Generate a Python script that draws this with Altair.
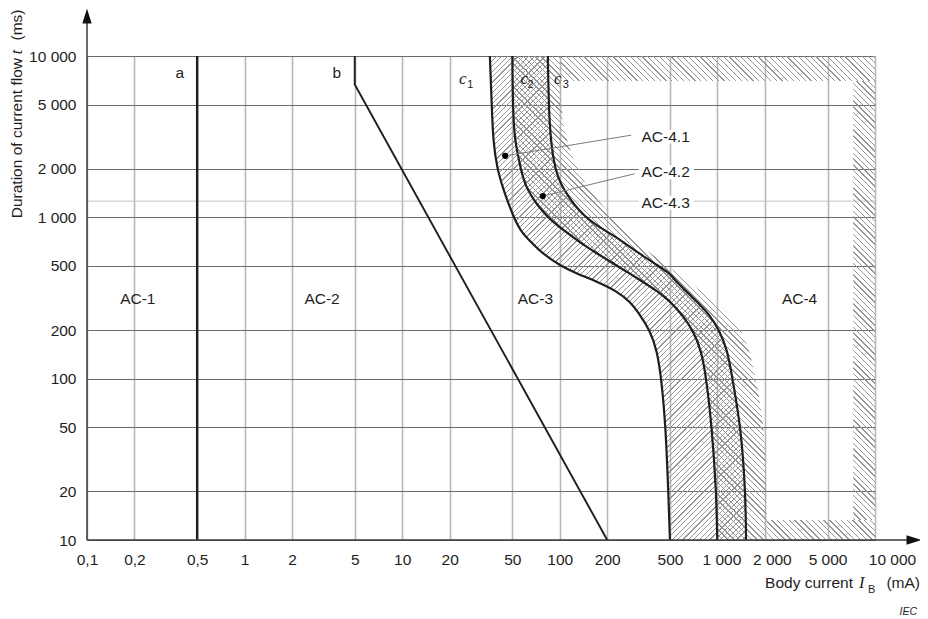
import math
import altair as alt
import pandas as pd

FONT = "Liberation Sans"
SERIF = "Liberation Serif"
INK = "#1e1e1e"
HATCH = "#969696"
CURVE_INTERP = "basis"

# ---------------- axis ticks ----------------
X_TICKS = [0.1, 0.2, 0.5, 1, 2, 5, 10, 20, 50, 100, 200, 500, 1000, 2000, 5000, 10000]
X_TICK_LABELS = ["0,1", "0,2", "0,5", "1", "2", "5", "10", "20", "50", "100", "200", "500",
                 "1 000", "2 000", "5 000", "10 000"]
Y_TICKS = [10, 20, 50, 100, 200, 500, 1000, 2000, 5000, 10000]
Y_TICK_LABELS = ["10", "20", "50", "100", "200", "500", "1 000", "2 000", "5 000", "10 000"]
EXTRA_LINE_MS = [1260]

# ---------------- curves (duration ms -> body current mA) ----------------
T_MS = [10, 20, 50, 100, 150, 200, 250, 300, 350, 400, 450, 500, 600, 700, 800, 1000,
        1500, 2000, 3000, 5000, 10000]
C1_MA = [500, 488, 470, 441, 414, 372, 321, 280, 228, 172, 127, 101, 77, 66, 57.4, 50.8,
         43.7, 40, 37.7, 37, 36]
C2_MA = [998, 984, 922, 851, 790, 700, 593, 505, 414, 334, 276, 231, 171, 134, 112, 82,
         60.7, 56.6, 51.6, 50.3, 50]
C3_MA = [1520, 1507, 1410, 1245, 1160, 1025, 890, 740, 630, 548, 498, 422, 316, 255, 206, 141,
         104, 93, 87.5, 85, 84]
C3_BAND_MA = [2050, 2050, 2000, 1753, 1600, 1420, 1200, 975, 790, 649, 561, 481, 377, 303, 267, 218,
              151, 130, 109, 101, 101]

A_MA = [0.5, 0.5]
A_MS = [10, 10000]
B_MA = [5, 5, 200]
B_MS = [10000, 6650, 10]

# hatched border strips of zone AC-4
STRIP_X1 = [101, 7270, 2050]
STRIP_X2 = [10000, 10000, 10000]
STRIP_T1 = [7000, 13.3, 10]
STRIP_T2 = [10000, 7000, 13.3]

# zone labels
ZONE_LABELS = ["AC-1", "AC-2", "AC-3", "AC-4"]
ZONE_MA = [0.21, 3.1, 70, 3320]
ZONE_MS = [311, 311, 311, 311]

# line letters
LETTER_TEXT = ["a", "b"]
LETTER_MA = [0.388, 3.85]
LETTER_MS = [7830, 7830]
C_MA = [24.2, 59.5, 97]
C_MS = [7230, 7230, 7230]
C_SUB_TEXT = ["1", "2", "3"]
C_SUB_MA = [27.1, 65.3, 109]
C_SUB_MS = [6650, 6650, 6650]

# AC-4.x labels
SUB_LABELS = ["AC-4.1", "AC-4.2", "AC-4.3"]
SUB_LABEL_MA = [330, 330, 330]
SUB_LABEL_MS = [3160, 1906, 1233]
BOX_MA1 = [317, 317, 317]
BOX_MA2 = [710, 710, 710]
BOX_MS1 = [2872, 1725, 1112]
BOX_MS2 = [3483, 2103, 1361]
DOT_MA = [45, 78]
DOT_MS = [2405, 1355]
LEAD_MA = [284, 298]
LEAD_MS = [3230, 1862]

W_PLOT, H_PLOT = 788, 484


def px_x(v):
    return (math.log10(v) + 1) / 5 * W_PLOT


def px_y(t):
    return (4 - math.log10(t)) / 3 * H_PLOT


def stripes(w, h, direction, period=5.8, thick=1.3, color=HATCH):
    L = w + h
    c = (1 / h + 1 / w) / (1 / h ** 2 + 1 / w ** 2)
    if direction == "/":
        x1, y1, x2, y2 = 0, 0, c / h, c / w
    else:
        x1, y1, x2, y2 = 0, 1, c / h, 1 - c / w
    clear = "rgba(255,255,255,0)"
    stops = []
    k = 0
    while True:
        a = (k * period + 1.0) / L
        b = a + thick / L
        if b >= 1:
            break
        a, b = round(a, 6), round(b, 6)
        stops += [{"offset": a, "color": clear}, {"offset": a, "color": color},
                  {"offset": b, "color": color}, {"offset": b, "color": clear}]
        k += 1
    return {"gradient": "linear", "x1": x1, "y1": y1, "x2": x2, "y2": y2, "stops": stops}


def lab_expr(ticks, labels):
    s = "''"
    for v, l in reversed(list(zip(ticks, labels))):
        s = f"datum.value == {v} ? '{l}' : {s}"
    return s


xscale = alt.Scale(type="log", domain=[0.1, 10000], nice=False)
yscale = alt.Scale(type="log", domain=[10, 10000], nice=False)

x_axis = alt.Axis(values=X_TICKS, labelExpr=lab_expr(X_TICKS, X_TICK_LABELS), title=None,
                  grid=True, gridColor="#b8b8b8", gridWidth=1.6, ticks=False, domain=False,
                  labelPadding=12, labelFont=FONT, labelFontSize=15.5, labelColor=INK,
                  labelFlush=False, labelOverlap=False,
                  labelOffset={"condition": [{"test": "datum.value == 10000", "value": 17},
                                             {"test": "datum.value == 2000", "value": 7},
                                             {"test": "datum.value == 1000", "value": 4}],
                               "value": 0})
y_axis = alt.Axis(values=Y_TICKS, labelExpr=lab_expr(Y_TICKS, Y_TICK_LABELS), title=None,
                  grid=True, gridColor="#6c6c6c", gridWidth=1, ticks=False, domain=False,
                  labelPadding=11, labelFont=FONT, labelFontSize=15.5, labelColor=INK,
                  labelFlush=False, labelOverlap=False)


def X(f):
    return alt.X(f"{f}:Q", scale=xscale, axis=x_axis)


def Y(f):
    return alt.Y(f"{f}:Q", scale=yscale, axis=y_axis)


one = pd.DataFrame({"k": [0]})
bands = pd.DataFrame({"t": T_MS, "c1": C1_MA, "c2": C2_MA, "c3": C3_MA, "c3b": C3_BAND_MA})

layers = []

# extra light horizontal line
layers.append(alt.Chart(pd.DataFrame({"t": EXTRA_LINE_MS})).mark_rule(color="#c4c4c4", strokeWidth=1)
              .encode(y=Y("t")))

# hatch "/" between c1 and c3
w1 = px_x(max(C3_MA)) - px_x(min(C1_MA))
layers.append(alt.Chart(bands).mark_area(orient="horizontal", interpolate=CURVE_INTERP,
                                         fill=stripes(w1, H_PLOT, "/", period=5.4), opacity=1)
              .encode(y=Y("t"), x=X("c1"), x2="c3"))
# hatch "\" between c2 and outer band
w2 = px_x(max(C3_BAND_MA)) - px_x(min(C2_MA))
layers.append(alt.Chart(bands).mark_area(orient="horizontal", interpolate=CURVE_INTERP,
                                         fill=stripes(w2, H_PLOT, "\\"), opacity=1)
              .encode(y=Y("t"), x=X("c2"), x2="c3b"))
# border strips
for x1, x2, t1, t2 in zip(STRIP_X1, STRIP_X2, STRIP_T1, STRIP_T2):
    w = px_x(x2) - px_x(x1)
    h = px_y(t1) - px_y(t2)
    layers.append(alt.Chart(pd.DataFrame({"x1": [x1], "x2": [x2], "t1": [t1], "t2": [t2]}))
                  .mark_rect(fill=stripes(w, h, "\\"))
                  .encode(x=X("x1"), x2="x2", y=Y("t1"), y2="t2"))

# white boxes behind AC-4.x labels
layers.append(alt.Chart(pd.DataFrame({"x1": BOX_MA1, "x2": BOX_MA2, "t1": BOX_MS1, "t2": BOX_MS2}))
              .mark_rect(fill="white")
              .encode(x=X("x1"), x2="x2", y=Y("t1"), y2="t2"))

# lines a and b
layers.append(alt.Chart(pd.DataFrame({"ma": A_MA, "t": A_MS, "i": range(len(A_MA))}))
              .mark_line(color=INK, strokeWidth=2.4)
              .encode(x=X("ma"), y=Y("t"), order="i:Q"))
layers.append(alt.Chart(pd.DataFrame({"ma": B_MA, "t": B_MS, "i": range(len(B_MA))}))
              .mark_line(color=INK, strokeWidth=1.9)
              .encode(x=X("ma"), y=Y("t"), order="i:Q"))

# curves c1, c2, c3
rows = []
for name, vals in (("c1", C1_MA), ("c2", C2_MA), ("c3", C3_MA)):
    for t, v in zip(T_MS, vals):
        rows.append({"curve": name, "t": t, "ma": v})
curves = pd.DataFrame(rows)
layers.append(alt.Chart(curves).mark_line(color=INK, strokeWidth=2.2, interpolate=CURVE_INTERP)
              .encode(x=X("ma"), y=Y("t"), detail="curve:N", order="t:Q"))

# leaders and dots
layers.append(alt.Chart(pd.DataFrame({"x1": DOT_MA, "x2": LEAD_MA, "t1": DOT_MS, "t2": LEAD_MS}))
              .mark_rule(color="#7a7a7a", strokeWidth=1)
              .encode(x=X("x1"), x2="x2", y=Y("t1"), y2="t2"))
layers.append(alt.Chart(pd.DataFrame({"ma": DOT_MA, "t": DOT_MS}))
              .mark_circle(color="black", size=38, opacity=1)
              .encode(x=X("ma"), y=Y("t")))

# texts
layers.append(alt.Chart(pd.DataFrame({"lab": ZONE_LABELS, "ma": ZONE_MA, "t": ZONE_MS}))
              .mark_text(font=FONT, fontSize=15.5, color=INK, align="center", baseline="middle")
              .encode(x=X("ma"), y=Y("t"), text="lab:N"))
layers.append(alt.Chart(pd.DataFrame({"lab": LETTER_TEXT, "ma": LETTER_MA, "t": LETTER_MS}))
              .mark_text(font=FONT, fontSize=15.5, color=INK, align="center", baseline="middle")
              .encode(x=X("ma"), y=Y("t"), text="lab:N"))
layers.append(alt.Chart(pd.DataFrame({"lab": ["c", "c", "c"], "ma": C_MA, "t": C_MS}))
              .mark_text(font=SERIF, fontSize=17, fontStyle="italic", color=INK, align="center",
                         baseline="middle")
              .encode(x=X("ma"), y=Y("t"), text="lab:N"))
layers.append(alt.Chart(pd.DataFrame({"lab": C_SUB_TEXT, "ma": C_SUB_MA, "t": C_SUB_MS}))
              .mark_text(font=FONT, fontSize=11, color=INK, align="center", baseline="middle")
              .encode(x=X("ma"), y=Y("t"), text="lab:N"))
layers.append(alt.Chart(pd.DataFrame({"lab": SUB_LABELS, "ma": SUB_LABEL_MA, "t": SUB_LABEL_MS}))
              .mark_text(font=FONT, fontSize=15.5, color=INK, align="left", baseline="middle")
              .encode(x=X("ma"), y=Y("t"), text="lab:N"))

# axis lines with arrows
AX = "#3a3a3a"
layers.append(alt.Chart(one).mark_rule(color=AX, strokeWidth=1.5)
              .encode(x=alt.value(0), y=alt.value(H_PLOT), y2=alt.value(-36)))
layers.append(alt.Chart(one).mark_rule(color=AX, strokeWidth=1.5)
              .encode(x=alt.value(0), x2=alt.value(822), y=alt.value(H_PLOT)))
layers.append(alt.Chart(one).mark_point(shape="M0,-1L0.62,1L-0.62,1Z", filled=True, size=225,
                                        color="#111", opacity=1)
              .encode(x=alt.value(0), y=alt.value(-40)))
layers.append(alt.Chart(one).mark_point(shape="M1,0L-1,-0.62L-1,0.62Z", filled=True, size=225,
                                        color="#111", opacity=1)
              .encode(x=alt.value(827), y=alt.value(H_PLOT)))


# axis titles
def txt(s, x, y, **kw):
    opts = dict(font=FONT, fontSize=15.5, color=INK, baseline="middle")
    opts.update(kw)
    return alt.Chart(one).mark_text(text=s, **opts).encode(x=alt.value(x), y=alt.value(y))


layers += [
    txt("Duration of current flow", -70, 2, angle=270, align="right"),
    txt("t", -70, -4, angle=270, align="center", font=SERIF, fontStyle="italic", fontSize=16.5),
    txt("(ms)", -70, -31, angle=270, align="center"),
    txt("Body current", 766, 527, align="right"),
    txt("I", 772, 527, align="left", font=SERIF, fontStyle="italic", fontSize=16.5),
    txt("B", 781, 534, align="left", fontSize=11),
    txt("(mA)", 833, 527, align="right"),
    txt("IEC", 830, 556, align="right", fontSize=10.5, fontStyle="italic"),
]

chart = alt.layer(*layers).properties(
    width=W_PLOT, height=H_PLOT,
    autosize=alt.AutoSizeParams(type="none"),
    padding={"left": 79, "top": 48, "right": 45, "bottom": 76},
).configure_view(stroke=None)

chart.save("out.html", embed_options={"renderer": "svg", "actions": False})
